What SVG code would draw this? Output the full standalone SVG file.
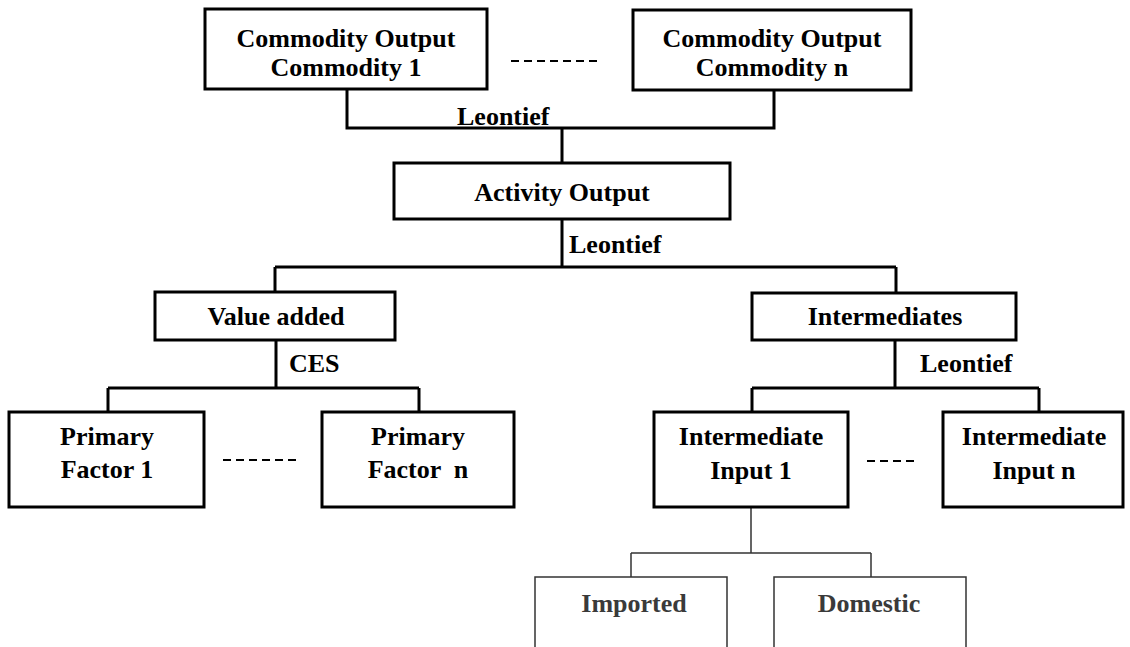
<svg xmlns="http://www.w3.org/2000/svg" width="1130" height="647" viewBox="0 0 1130 647">
<style>
.box{fill:#fff;stroke:#000;stroke-width:3}
.open{fill:none;stroke:#333;stroke-width:1.5}
text{font-family:"Liberation Serif","DejaVu Serif","Times New Roman",serif;font-weight:bold;font-size:26px;fill:#000}
.t{text-anchor:middle}
.g{fill:#3a3a3a}
.c{fill:none;stroke:#000;stroke-width:3}
.cg{fill:none;stroke:#333;stroke-width:1.5}
.d{stroke:#000;stroke-width:2;stroke-dasharray:8 5}
</style>
<rect width="1130" height="647" fill="#fff"/>
<g id="connectors">
<path class="c" d="M347 89V128H774V90M562 128V163M562 219V267M275 267H896M275 267V292M896 267V293M276 340V388M108 388H419M108 388V412M419 388V412M895 340V388M752 388H1039M752 388V412M1039 388V412"/>
<path class="cg" d="M751 507V553M631 553H871M631 553V577M871 553V577"/>
<line class="d" x1="511" y1="61" x2="602" y2="61"/>
<line class="d" x1="223" y1="460" x2="298" y2="460"/>
<line class="d" x1="867" y1="461" x2="918" y2="461"/>
<text font-family="Liberation Serif, serif" x="457" y="125">Leontief</text>
<text font-family="Liberation Serif, serif" x="569" y="253">Leontief</text>
<text font-family="Liberation Serif, serif" x="289" y="372">CES</text>
<text font-family="Liberation Serif, serif" x="920" y="372">Leontief</text>
</g>
<g id="commodity1"><rect class="box" x="205" y="9" width="282" height="80"/><text class="t" x="346" y="47">Commodity Output</text><text class="t" x="346" y="76">Commodity 1</text></g>
<g id="commodityn"><rect class="box" x="633" y="10" width="278" height="80"/><text class="t" x="772" y="47">Commodity Output</text><text class="t" x="772" y="76">Commodity n</text></g>
<g id="activity"><rect class="box" x="394" y="163" width="336" height="56"/><text class="t" x="562" y="201">Activity Output</text></g>
<g id="valueadded"><rect class="box" x="155" y="292" width="240" height="48"/><text class="t" x="276" y="325">Value added</text></g>
<g id="intermediates"><rect class="box" x="752" y="293" width="264" height="47"/><text class="t" x="885" y="325">Intermediates</text></g>
<g id="primary1"><rect class="box" x="9" y="412" width="195" height="95"/><text class="t" x="107" y="445">Primary</text><text class="t" x="107" y="478">Factor 1</text></g>
<g id="primaryn"><rect class="box" x="322" y="412" width="192" height="95"/><text class="t" x="418" y="445">Primary</text><text class="t" x="418" y="478" xml:space="preserve">Factor  n</text></g>
<g id="input1"><rect class="box" x="654" y="412" width="194" height="95"/><text class="t" x="751" y="445">Intermediate</text><text class="t" x="751" y="479">Input 1</text></g>
<g id="inputn"><rect class="box" x="943" y="412" width="180" height="95"/><text class="t" x="1034" y="445">Intermediate</text><text class="t" x="1034" y="479">Input n</text></g>
<g id="imported"><path class="open" d="M535 647V577H727V647"/><text class="t g" x="634" y="612">Imported</text></g>
<g id="domestic"><path class="open" d="M774 647V577H966V647"/><text class="t g" x="869" y="612">Domestic</text></g>
</svg>
